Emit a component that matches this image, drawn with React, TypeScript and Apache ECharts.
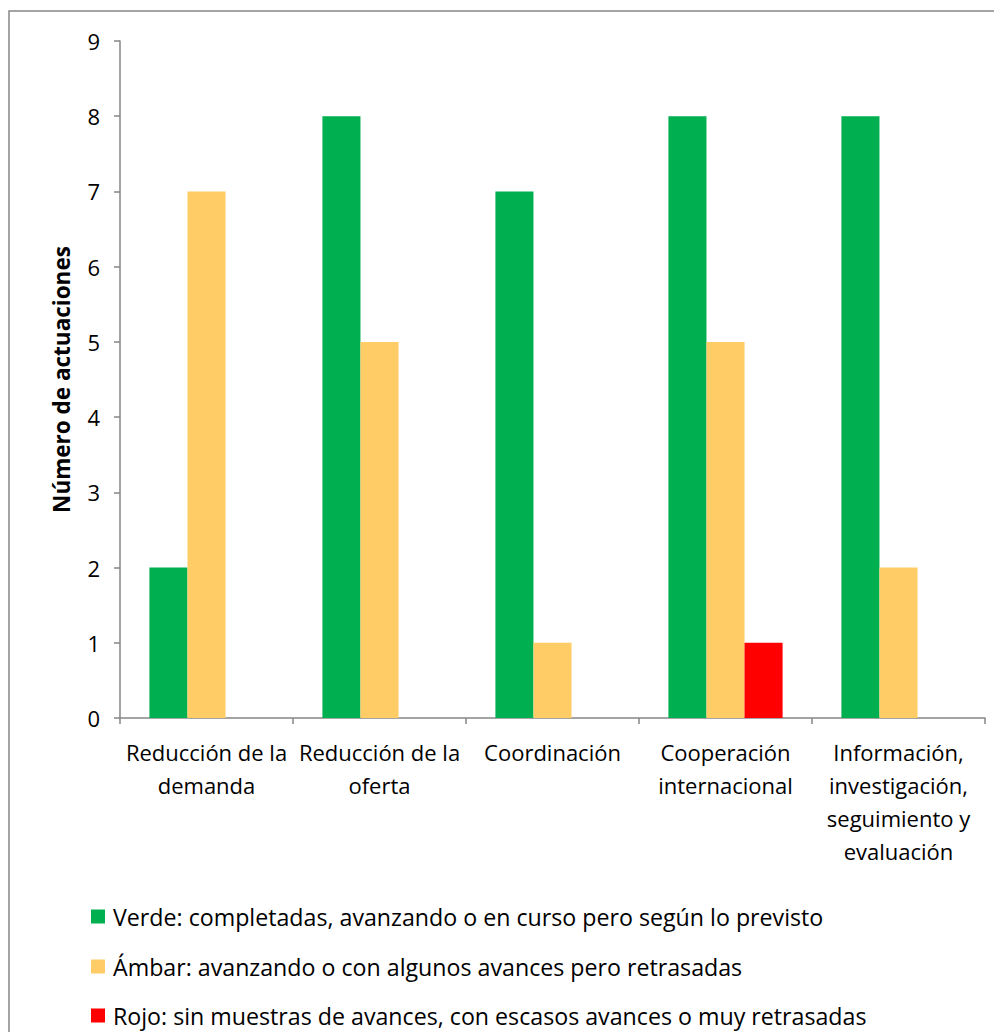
import React, { useEffect, useRef } from "react";
import * as echarts from "echarts";

const categories = [
  "Reducción de la\ndemanda",
  "Reducción de la\noferta",
  "Coordinación",
  "Cooperación\ninternacional",
  "Información,\ninvestigación,\nseguimiento y\nevaluación",
];
const seriesNames = [
  "Verde: completadas, avanzando o en curso pero según lo previsto",
  "Ámbar: avanzando o con algunos avances pero retrasadas",
  "Rojo: sin muestras de avances, con escasos avances o muy retrasadas",
];
const verde = [2, 8, 7, 8, 8];
const ambar = [7, 5, 1, 5, 2];
const rojo = [0, 0, 0, 1, 0];
const colors = ["#00B050", "#FFCC66", "#FF0000"];
const yTicks = [0, 9, 1];

const FONT = "'Open Sans', sans-serif";

export default function App() {
  const ref = useRef<HTMLDivElement>(null);
  useEffect(() => {
    if (!ref.current) return;
    const chart = echarts.init(ref.current, undefined, { renderer: "svg" });
    const seriesData = [verde, ambar, rojo];
    const legendTops = [897, 947, 996];
    chart.setOption({
      animation: false,
      backgroundColor: "#ffffff",
      textStyle: { fontFamily: FONT },
      graphic: [
        {
          type: "rect",
          shape: { x: 1, y: 3, width: 1100, height: 1100 },
          style: { fill: "none", stroke: "#868686", lineWidth: 1.5 },
          silent: true,
        },
      ],
      grid: { left: 112, right: 17, top: 33, bottom: 314, containLabel: false },
      legend: seriesNames.map((name, i) => ({
        orient: "horizontal",
        left: 83,
        top: legendTops[i],
        padding: 0,
        itemWidth: 14,
        itemHeight: 14,
        icon: "rect",
        selectedMode: false,
        textStyle: { fontFamily: FONT, fontSize: 23.2, color: "#000", padding: [0, 0, 0, 3] },
        data: [name],
      })),
      xAxis: {
        type: "category",
        data: categories,
        axisLine: { lineStyle: { color: "#868686", width: 1.5 } },
        axisTick: { show: true, length: 6, lineStyle: { color: "#868686", width: 1.5 } },
        axisLabel: {
          interval: 0,
          color: "#000",
          fontFamily: FONT,
          fontSize: 22,
          lineHeight: 33,
          margin: 17,
        },
      },
      yAxis: {
        type: "value",
        min: yTicks[0],
        max: yTicks[1],
        interval: yTicks[2],
        name: "Número de actuaciones",
        nameLocation: "middle",
        nameGap: 47,
        nameRotate: 90,
        nameTextStyle: { fontFamily: FONT, fontSize: 22.5, fontWeight: "bold", color: "#000" },
        axisLine: { show: true, lineStyle: { color: "#868686", width: 1.5 } },
        axisTick: { show: true, length: 6, lineStyle: { color: "#868686", width: 1.5 } },
        splitLine: { show: false },
        axisLabel: { color: "#000", fontFamily: FONT, fontSize: 22, margin: 20 },
      },
      series: seriesNames.map((name, i) => ({
        name,
        type: "bar",
        data: seriesData[i],
        itemStyle: { color: colors[i] },
        barGap: "0%",
        barCategoryGap: "34%",
      })),
    });
    return () => chart.dispose();
  }, []);
  return <div ref={ref} style={{ width: 994, height: 1024 }} />;
}
